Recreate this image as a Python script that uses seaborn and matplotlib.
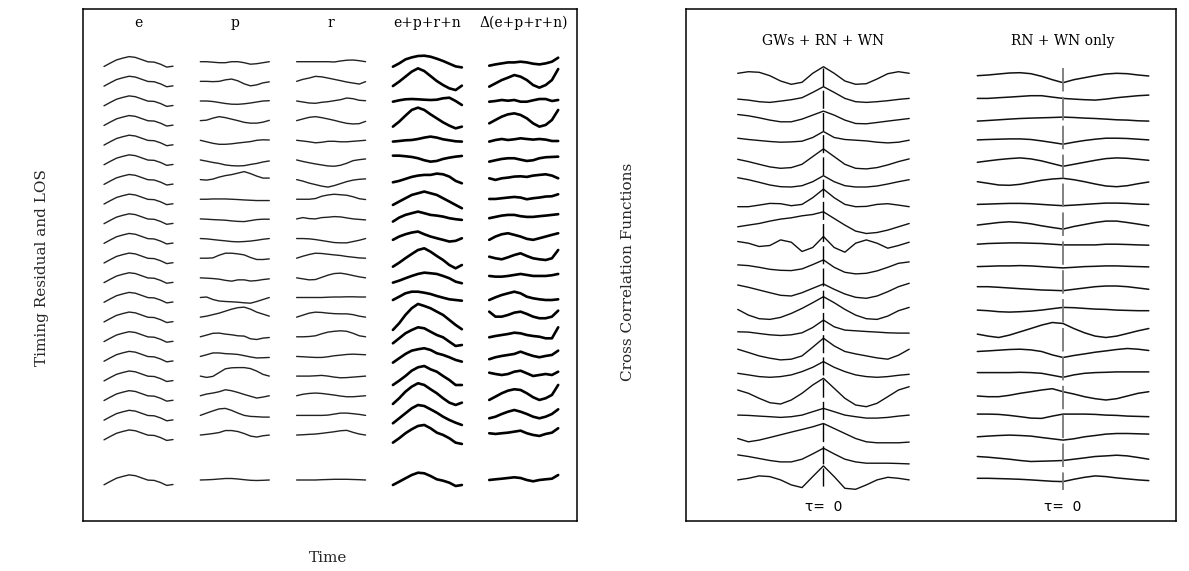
import numpy as np
import pandas as pd
import matplotlib
matplotlib.use("Agg")
import matplotlib.pyplot as plt
import seaborn as sns

# ---------------- text ----------------
COLUMN_TITLES = ["e", "p", "r", "e+p+r+n", "Δ(e+p+r+n)"]
RIGHT_TITLES = ["GWs + RN + WN", "RN + WN only"]
LEFT_YLABEL = "Timing Residual and LOS"
LEFT_XLABEL = "Time"
RIGHT_YLABEL = "Cross Correlation Functions"
TAU_LABEL = "τ=  0"

# ---------------- data (vertical displacement, 20 rows + bottom row) ----------------
E_ROW = [-4.8, -1.4, 1.8, 3.6, 5.1, 4.3, 2.1, -0.1, -0.4, -2.5, -5.4, -4.5]

P_ROWS = [
    [0, 0, -0.5, -1, -1, 0, 0, -1, -2.5, -2, -1, 0],
    [0, 0, -0.3, 0, 1.5, 2.3, 0.5, -2.5, -4.5, -3.5, -1.5, -0.5],
    [0, 0, -0.5, -1.5, -2.5, -3.2, -3.3, -2.8, -2, -1, 0, 0.3],
    [0, 0.5, 2.5, 4, 3, 1.5, 0, -1.7, -2.5, -2.5, -1.5, 0.3],
    [0, -1.5, -3, -4, -4, -3.5, -2.7, -2, -1.3, 0, 0.5, 0.3],
    [0, -1.2, -2.5, -3.5, -5, -5.7, -6, -5.7, -4.5, -3.5, -2, -1],
    [0, -0.5, 0.5, 2.5, 4, 5, 6.5, 8, 6, 3.5, 1.5, 1.5],
    [0, 0, 0.3, 0.3, 0.3, 0, -0.3, -0.7, -1, -1.3, -1.3, -1.3],
    [0, -0.3, -0.7, -1, -1.3, -2, -2.5, -2.7, -1.7, -0.7, -0.3, -0.3],
    [0, -0.3, -1, -1.7, -2.3, -3, -3.3, -3, -2.5, -1.7, -0.7, 0],
    [0, 0, 0.3, 3, 5, 5, 4.3, 3.3, 0.7, -1.3, -1.3, -0.7],
    [0, -0.3, -0.7, -1.3, -2.5, -3.3, -2, -2, -3.2, -2.7, -1.7, -1],
    [0, 0.5, -2, -3.5, -4, -4.3, -4.7, -5.3, -5.7, -4, -2, 0],
    [0, 1, 2.5, 4, 6, 8, 9.5, 10, 8, 5, 3, 1],
    [0, 1.7, 3.5, 3.7, 2.7, 2, 1, 0.7, -2, -2.7, -1.3, -0.7],
    [0, 1.7, 3.5, 3.5, 2.8, 2.5, 2, 0.8, -0.5, -1.5, -1.3, -1],
    [0, -1.3, -0.3, 3.5, 7.3, 8.3, 8.5, 8.5, 7.5, 5, 1.7, 0],
    [0, 1.7, 2.7, 4, 6, 5, 3.3, 1.3, -0.5, -2.3, -1.3, 0],
    [0, 2.3, 4.5, 6.5, 7, 5, 2.3, 0, -1, -1.3, -1.7, -1.7],
    [0, 0.7, 1.5, 2.5, 4.5, 4.5, 3.5, 1.5, -1, -2, -0.7, 0],
    [0, 0.2, 0.5, 1, 1.5, 1.5, 1, 0.3, -0.3, -0.5, -0.3, 0],
]

R_ROWS = [
    [0, 0, 0, 0, 0, 0, -0.3, 0.7, 1.5, 1.7, 1, 0],
    [0, 2, 3.3, 5, 4.5, 3.3, 2, 0.7, -0.7, -1.7, -2.7, -0.3],
    [0, -1, -2, -2.3, -1.3, -0.7, 0.3, 1.3, 3, 2.3, 0.7, 0.3],
    [0, 1.7, 3.3, 4, 3, 1.7, 0.3, -1.3, -2.7, -3.3, -3, -0.7],
    [0, -0.7, -1.5, -2.5, -2, -1, -1, -1.5, -1.5, -1, -0.5, 0],
    [0, -1.5, -2.8, -4, -5, -6, -6.3, -5.3, -3.3, -0.7, 0.3, 1],
    [0, -1.5, -3.5, -5, -6.5, -7.5, -6, -4, -2, -0.5, 0.3, 0.7],
    [0, 0, 0, 0.7, 3, 4.3, 5, 4.5, 4, 2.5, 0.5, -0.3],
    [0, 1.3, 0.3, 0, 1.3, 1.7, 2.3, 2, 1, 0, -0.5, -1],
    [0, 0, -0.3, -1, -2, -3, -4, -4.3, -4.3, -3, -1.7, 0],
    [0, 2, 3.7, 5, 4.7, 4, 3.3, 2.7, 1.7, 1, 0.3, 0],
    [0, -1, -2, -1.7, 0.5, 2.7, 4.3, 4.7, 3.7, 2.3, 1, 0],
    [0, 0, 0, 0, 0, 0.3, 0.5, 0.5, 0.7, 0.7, 0.5, 0.5],
    [0, 2, 4, 5, 4.7, 4, 3.5, 3.3, 3.3, 2.5, 1, 0],
    [0, 0, 0.3, 1, 3, 4.7, 5.5, 6, 5.5, 3.5, 1, 0],
    [0, -0.3, -0.7, -1, -1, -0.3, 0.7, 1.3, 2, 2.3, 2, 1.7],
    [0, 0, 0, 0.3, 0.7, 0, -1, -1.7, -1.5, -1, -0.5, 0],
    [0, 1.5, 2.3, 2.7, 2.3, 1.5, 0.7, -0.3, -1, -1, -0.5, 0],
    [0, 0, 0, 0, 0, 0.3, 1.3, 2.3, 2.3, 1.7, 1, 0],
    [0, 0.3, 0.7, 1, 1.7, 2.5, 3.3, 4.3, 4.7, 2.7, 1, 0],
    [0, 0, 0, 0, 0.3, 0.5, 0.7, 0.7, 0.7, 0.5, 0.3, 0],
]

EPRN_ROWS = [
    [-5, -1.7, 2.3, 4.3, 5.7, 6, 5, 3, 0.7, -2, -4.7, -5.7],
    [-4.7, -0.3, 4.7, 9.7, 13, 10.3, 5.3, 0.3, -3.7, -7, -8.7, -4.3],
    [-0.7, 0.7, 1.7, 2, 1.7, 1.3, 1, 1.3, 2.7, 3.3, 0, -4],
    [-6, -1, 5, 10.7, 13, 10.7, 6.3, 2.3, -1.7, -5, -7.7, -6],
    [-1.3, -0.7, 0, 0.3, 1.3, 2.7, 3.7, 2.7, 1, 0, -1, -1.3],
    [4.3, 4.3, 3.7, 3, 1.7, -0.3, -1.7, -1, 1, 2.3, 3.3, 4],
    [-2.7, -1.3, 0.7, 2.7, 4, 4.7, 4.7, 6, 5.3, 3, -1.3, -3.7],
    [-5.7, -2.3, 1, 4.3, 6, 7.7, 6, 4.3, 1, -2.3, -5.7, -9],
    [-2.7, 1.3, 4, 5.7, 7.3, 5.7, 4, 3.3, 2.3, 0.7, -0.3, -1],
    [-1.3, 2, 4.3, 6, 7, 4.3, 2, 0.3, -1.3, -3, -2.3, 0.3],
    [-8.5, -4.5, 0, 4.2, 8.2, 9.9, 6.5, 2.2, -1.8, -6.8, -10.1, -6.8],
    [-4.8, -2.8, -0.4, 1.9, 3.9, 5.2, 4.6, 3.9, 1.9, -0.4, -3.8, -5.4],
    [-2.5, 0.8, 4.2, 5.8, 5.8, 4.8, 3.5, 1.5, -0.2, -1.8, -2.5, -3.2],
    [-12.8, -6.1, 2.2, 8.9, 13.2, 11.2, 8.9, 5.5, 2.2, -2.8, -7.8, -12.1],
    [-6.5, -1.5, 3.5, 6.8, 9.5, 8.5, 5.1, 1.8, -0.5, -4.9, -9.2, -8.2],
    [-6.2, -1.8, 2.5, 5.8, 7.2, 8.2, 6.5, 3.2, 1.5, -0.8, -3.5, -5.2],
    [-8.9, -4.6, 0.1, 5.4, 8.8, 10.1, 6.8, 4.4, 0.1, -3.9, -8.9, -8.9],
    [-8.2, -2.5, 4.1, 9.1, 12.5, 10.8, 6.5, 2.5, -2.5, -6.9, -9.2, -6.9],
    [-7.9, -2.9, 2.1, 7.1, 10.4, 9.4, 6.1, 2.7, -1.3, -4.6, -7.3, -9.6],
    [-7.6, -3.2, 1.8, 5.8, 9.1, 10.1, 6.8, 2.4, 0.1, -3.2, -7.6, -8.9],
    [-5, -1.7, 1.7, 5, 7.3, 6.7, 4, 0.7, -0.7, -2.7, -6, -5],
]

DELTA_ROWS = [
    [-4, -2.7, -1.7, -0.7, -0.7, 0, -0.7, -2, -2.7, -1.7, 0, 4],
    [-5.3, -2, 1.3, 3.7, 6.3, 4.7, 1.3, -3.7, -6.3, -3.7, 1.3, 12.3],
    [-0.7, 0, 1, 0.3, 1, -0.7, -0.7, 0.7, 2, 2, 0, 1],
    [-2.7, 0.7, 4, 6.3, 7.3, 5.7, 2.3, -2.7, -6, -4.3, 0.7, 10.7],
    [-1.3, 0.3, 1.3, 0.3, 1, 2, 1.3, 0.7, 1.3, 0.7, -0.7, -0.7],
    [-1.7, -0.3, 1, 1.7, 1.7, 0.3, -1, -0.3, 1.7, 2.7, 3, 3.3],
    [1.3, -0.3, 1.3, 2, 3, 3.3, 2.7, 4, 4.7, 5.3, 4, 1.3],
    [0.3, 0.3, 1, 1.7, 2.3, 1.7, 0, 1, 1.7, 2.7, 3, 5],
    [0.7, 2, 3.3, 4, 4, 2.7, 2, 2, 2.7, 3.3, 4, 4.7],
    [-1.3, 2, 4.3, 5.3, 3.7, 2, -0.3, -1.3, 0.3, 2, 3.7, 5.3],
    [1.5, -0.1, -1.1, 0.9, 3.2, 4.9, 2.2, -0.1, -1.1, -1.8, -0.1, 8.2],
    [1.9, 1.2, 1.2, 1.9, 2.9, 3.9, 2.9, 1.9, 1.9, 1.9, 2.6, 3.9],
    [-2.5, 0.2, 2.5, 4.2, 5.8, 4.2, 0.8, -0.8, -1.8, -2.5, -2.5, -1.8],
    [5.5, 0.5, 0.5, 2.2, 4.5, 5.5, 3.2, 0.5, -1.1, -1.1, 0.5, 6.5],
    [-0.5, 0.8, 1.8, 2.8, 4.1, 3.5, 1.8, 0.8, 0.1, -1.5, -1.5, 9.5],
    [-2.8, -0.8, 0.5, 1.5, 2.5, 4.8, 2.5, 0.5, -0.8, 0.5, 1.5, 5.8],
    [3.4, 2.1, 1.1, 2.1, 4.4, 5.4, 2.8, 0.1, 1.1, 2.1, 1.1, 4.4],
    [-4.2, -0.9, 2.5, 5.1, 6.5, 5.8, 2.5, -1.5, -4.2, -2.5, 0.8, 10.8],
    [-2.9, -1.3, 1.4, 3.7, 5.4, 3.7, 1.4, -1.3, -2.9, -1.3, 1.4, 6.1],
    [1.8, 1.1, 1.8, 2.4, 3.4, 4.4, 1.8, 0.1, -0.9, 1.1, 2.4, 6.8],
    [0, 0.7, 1.3, 2, 2.7, 2, 0, -1.3, 0, 0.7, 1.3, 5],
]

# cross-correlation functions, lag from -max to +max (17 samples, tau=0 in the middle)
GW_ROWS = [
    [-0.3, 1.3, 0.7, -2.7, -8, -11.3, -9.3, -0.3, 6.3, -0.3, -8, -11.3, -10.7, -6, -0.7, 1.3, -0.3],
    [-4.7, -5.7, -7.3, -8, -6.7, -5.3, -3.3, 2, 7.7, 2, -4, -7.3, -8, -7.3, -6.3, -5, -4],
    [1.3, 0, -2, -4.3, -6, -6, -3.3, 0.7, 4.7, 0.7, -4.3, -7.7, -8, -6.7, -5.3, -4, -2.7],
    [-1, -2.3, -3.3, -4.3, -5, -4.7, -4, -0.3, 5.7, -0.3, -2.3, -3, -3.7, -5, -5.7, -5, -3],
    [-0.7, -3, -5.7, -8.3, -9.7, -9, -5.7, 2, 9.7, 2, -5.7, -9.7, -10.3, -9, -6.3, -3, -0.3],
    [2.3, 0.3, -2.3, -5, -6.7, -7, -5.7, -1.7, 4.3, -1.7, -5.7, -7, -7, -6, -4, -1.7, 0.3],
    [-5.3, -5.3, -3.7, -2, -2.3, -4.3, -3, 3.7, 12.3, 3.7, -3, -5.3, -5, -3, -2.3, -3.7, -5.3],
    [-4, -2.3, -0.7, 1.7, 3.7, 5, 7, 8.3, 11, 4.3, -2.3, -8.3, -10.7, -9.7, -7.3, -4, -0.7],
    [2.7, 1, -2.3, -1.3, 4.3, 2, -7.3, -3.3, 7.7, -3.3, -8, 1, 4.3, 1, -4, -1.3, 2],
    [0.7, 0, -1.7, -3.7, -4.7, -5, -3.3, 1, 5.7, -1.7, -6.7, -8.3, -7.7, -5.3, -1.7, 2.3, 3.7],
    [2, -0.3, -3, -5.7, -8.3, -9, -5.7, -1.3, 3, -2.3, -7, -10.3, -11.3, -9, -4.7, 0.3, 3.7],
    [-1, -6.7, -10.3, -11, -9, -5, 0, 5.7, 11.7, 5.7, -1, -6.7, -10.3, -11, -7.7, -2.3, 1],
    [-2, -2.3, -3.7, -5, -5.7, -5, -3, 2.3, 9.7, 3, -0.3, -1, -1.7, -2.3, -3, -3.3, -3.3],
    [2, -1.3, -4.7, -7, -8.7, -8, -4.7, 4, 13, 5.3, -0.3, -2.7, -4.7, -6.7, -8, -4, 2],
    [-0.7, -2.3, -4, -4.7, -4, -2.3, 1, 5.3, 11, 5.3, 1, -2.3, -4, -4.7, -4, -2.7, -1.7],
    [4, 0.7, -4.3, -8.7, -10, -6, 0.7, 9, 15.7, 5.7, -4.3, -11, -12.7, -9.3, -2.7, 4, 7.3],
    [0.3, 0, -0.7, -1.3, -2, -1.3, 0.3, 3.7, 7, 3.7, 0.3, -1.3, -2.7, -2.7, -2, -0.7, 0.3],
    [-1.7, -5, -3.3, -0.7, 2, 4.7, 7.3, 10, 13.3, 8.3, 3.3, -1.7, -5, -6, -6, -6, -5.3],
    [3.3, 1.7, -0.3, -2.3, -3.7, -3.7, -1, 4.3, 10, 4.3, -1, -3.7, -5, -5, -5, -5.3, -5.7],
    [-0.3, 1.3, 3.7, 3, -0.3, -5.3, -8, 3, 13.7, 3, -8.7, -9.7, -5.3, -0.3, 2.3, 1.3, -0.3],
]

RN_ROWS = [
    [-2.7, -2, -1, 0, 0.3, -0.7, -3.3, -6.7, -9.7, -6.7, -4.7, -2.7, -1, -0.3, -0.7, -2, -3],
    [-4, -4, -3.3, -2.7, -2, -1.3, -1.3, -2.7, -4, -4.7, -5.3, -5.7, -4.7, -3.3, -2.3, -1.3, -0.7],
    [-5.3, -4.7, -4, -3.3, -2.7, -2.3, -2, -1.7, -1.3, -1.7, -2.3, -2.7, -3.3, -4, -4.3, -5, -5.3],
    [-2.7, -2.3, -2, -1.7, -1.7, -2.3, -3.7, -5.3, -7, -5, -3.3, -2, -1, -1, -1.3, -2, -2.7],
    [-3.7, -2.3, -1, 0, 0.7, -0.3, -2.3, -5, -7.7, -5.7, -3.7, -1.7, 0, 0.7, 0.3, -0.7, -1.7],
    [-1.7, -3.3, -5, -5.3, -4.3, -2.3, -0.3, 1, 1.7, 0.3, -1.7, -4, -6, -6.7, -5.7, -3.7, -2],
    [-3, -2.7, -2.3, -2, -2, -2.3, -3, -3.7, -4.3, -3.7, -3, -2.3, -1.7, -1.7, -2, -2.7, -3],
    [-2.3, -1, 0.3, 1, 0.3, -1, -3, -4.7, -6.3, -3.7, -1.7, 0.3, 1.7, 1.7, 0.3, -1.3, -3],
    [0, 0.7, 1, 1.3, 1.3, 1, 0.7, 0, -0.7, -0.7, -0.7, -0.7, 0, 0, -0.3, -0.7, -1],
    [-1, -0.7, -0.3, -0.3, 0, -0.3, -1, -1.7, -2.3, -1.7, -1, -0.7, -0.3, -0.3, -0.7, -1, -1.3],
    [0.3, 0.3, -0.3, -1, -1.7, -2.3, -3, -3.3, -3.7, -2.3, -1, 0.3, 1, 1, 0.3, -1, -2.3],
    [-1.7, -2.3, -3.3, -3.7, -3.3, -2.7, -1.7, -0.3, 1, 0.7, 0, -0.7, -1, -1.7, -2, -2.3, -2.3],
    [-4.3, -6.3, -7.7, -5.3, -2, 1.3, 4.7, 7.3, 6.3, 1.3, -3, -6.3, -7.7, -6.3, -3.7, -1, 1.3],
    [-0.3, 0.3, 1, 1.7, 2, 1.3, -0.3, -3.7, -6.3, -4.3, -2.7, -1, 0.3, 1.7, 2.7, 2, 0.7],
    [0, 0, 0, 0, 0.3, 0, -0.7, -2.7, -4.7, -2.3, -0.7, 0, 0.3, 0.7, 0.7, 0.7, 0.7],
    [-2, -2.7, -2.7, -1.3, 0.7, 2.3, 4, 5.3, 2.3, 0, -2.7, -4.7, -6, -4.7, -2, 0.7, 2.3],
    [1.3, 1.3, 1, 0, -1.3, -2.7, -3, -0.7, 1.3, 1.3, 1.3, 1, 0.3, 0, -0.7, -1, -1.3],
    [0, 0.7, 1.3, 1.7, 1.3, 0.7, -0.7, -2, -3.3, -2, 0, 1.3, 2.7, 3.3, 3.3, 3, 2.7],
    [1.7, 1, 0, -1, -2.3, -3.3, -3, -2.7, -2.3, -1, 0.3, 1.7, 2.3, 3, 2.3, 0.7, -1],
    [1.3, 1.3, 1, 0.7, 0.3, -0.3, -1, -1.7, -2, 0.3, 2.3, 3.7, 3, 1.7, 0.7, -0.3, -1],
]

# ---------------- layout (figure pixels) ----------------
W, H = 1189, 571
LEFT_BOX = (83, 577, 9, 521)      # x0, x1, ytop, ybottom
RIGHT_BOX = (686, 1176, 9, 521)
COL_LEFT0, COL_STEP, COL_W = 104.0, 96.3, 69.0
ROW_TOP, ROW_STEP, BOTTOM_ROW = 61.7, 19.65, 480.0
R_ROW_TOP, R_ROW_STEP = 73.0, 21.4
GW_X0, RN_X0, CCF_W = 737.7, 977.3, 171.5
GW_TAU, RN_TAU = 823.3, 1062.7

sns.set_style("white")
plt.rcParams["font.family"] = ["DejaVu Serif", "DejaVu Sans"]

fig = plt.figure(figsize=(W / 100, H / 100), dpi=100)


def box_axes(box):
    x0, x1, yt, yb = box
    ax = fig.add_axes([x0 / W, 1 - yb / H, (x1 - x0) / W, (yb - yt) / H])
    ax.set_xlim(x0, x1)
    ax.set_ylim(yb, yt)
    ax.set_xticks([])
    ax.set_yticks([])
    for s in ax.spines.values():
        s.set_visible(True)
        s.set_color("black")
        s.set_linewidth(1.1)
    return ax


axL = box_axes(LEFT_BOX)
axR = box_axes(RIGHT_BOX)

# ---- left panel long table
rows_left = []
uid = 0
columns = [[E_ROW] * 21, P_ROWS, R_ROWS, EPRN_ROWS, DELTA_ROWS]
for k, col in enumerate(columns):
    for i, vals in enumerate(col):
        base = BOTTOM_ROW if i == 20 else ROW_TOP + ROW_STEP * i
        t = np.linspace(0, 1, len(vals))
        xs = COL_LEFT0 + COL_STEP * k + t * COL_W
        for x, v in zip(xs, vals):
            rows_left.append({"x": x, "y": base - v, "uid": uid, "noisy": k >= 3})
        uid += 1
dfL = pd.DataFrame(rows_left)

sns.lineplot(data=dfL[~dfL.noisy], x="x", y="y", units="uid", estimator=None, sort=False,
             color="#222222", linewidth=1.0, ax=axL, legend=False)
sns.lineplot(data=dfL[dfL.noisy], x="x", y="y", units="uid", estimator=None, sort=False,
             color="black", linewidth=1.9, ax=axL, legend=False)

for k, title in enumerate(COLUMN_TITLES):
    axL.text(COL_LEFT0 + COL_STEP * k + COL_W / 2, 27, title, ha="center", va="baseline",
             fontsize=10, color="black")

# ---- right panel long table
rows_right = []
uid = 0
for p, (rows, x0) in enumerate([(GW_ROWS, GW_X0), (RN_ROWS, RN_X0)]):
    for j, vals in enumerate(rows):
        base = R_ROW_TOP + R_ROW_STEP * j
        t = np.linspace(0, 1, len(vals))
        for x, v in zip(x0 + t * CCF_W, vals):
            rows_right.append({"x": x, "y": base - v, "uid": uid, "panel": p})
        uid += 1
dfR = pd.DataFrame(rows_right)

sns.lineplot(data=dfR[dfR.panel == 0], x="x", y="y", units="uid", estimator=None, sort=False,
             color="#111111", linewidth=1.0, ax=axR, legend=False)
sns.lineplot(data=dfR[dfR.panel == 1], x="x", y="y", units="uid", estimator=None, sort=False,
             color="#111111", linewidth=1.1, ax=axR, legend=False)

axR.plot([GW_TAU, GW_TAU], [68, 490], color="black", lw=1.0, dashes=(13, 3))
axR.plot([RN_TAU, RN_TAU], [68, 490], color="#777777", lw=1.3, dashes=(13, 3))

for title, xc in zip(RIGHT_TITLES, [GW_TAU, RN_TAU]):
    axR.text(xc, 45, title, ha="center", va="baseline", fontsize=10, color="black")
for xc in [GW_TAU, RN_TAU]:
    axR.text(xc, 511, TAU_LABEL, ha="center", va="baseline", fontsize=10,
             family=["DejaVu Sans"], color="black")

for ax in (axL, axR):
    ax.set_xlabel("")
    ax.set_ylabel("")

fig.text(42 / W, 1 - 268 / H, LEFT_YLABEL, rotation=90, ha="center", va="center", fontsize=11)
fig.text(328 / W, 1 - 558 / H, LEFT_XLABEL, ha="center", va="center", fontsize=11)
fig.text(628 / W, 1 - 272 / H, RIGHT_YLABEL, rotation=90, ha="center", va="center", fontsize=11)

fig.savefig("out.png", dpi=100, facecolor="white")
